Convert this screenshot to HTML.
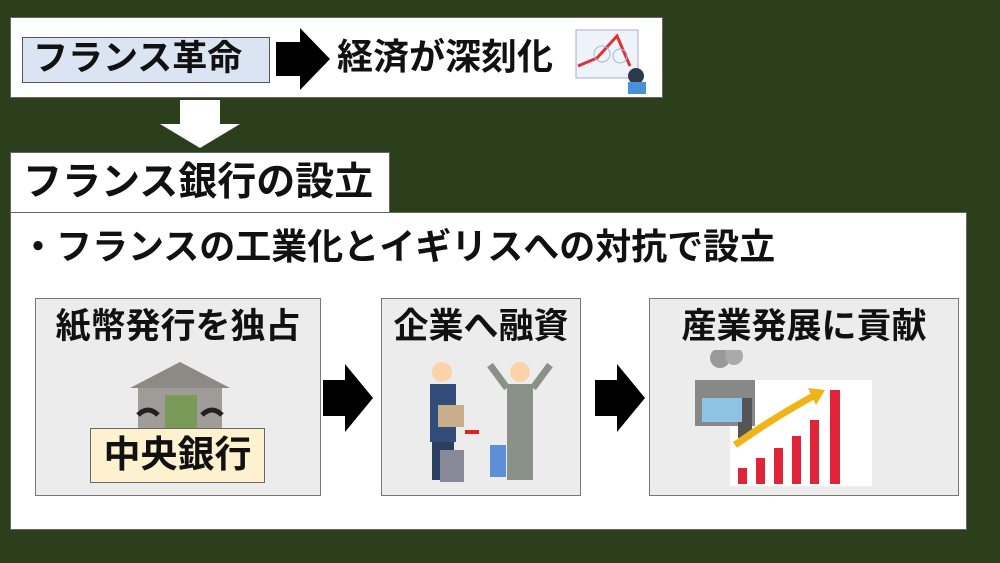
<!DOCTYPE html>
<html><head><meta charset="utf-8"><style>
body{margin:0;width:1000px;height:563px;background:#2b3f1c;position:relative;overflow:hidden;font-family:"Liberation Sans","Noto Sans CJK JP",sans-serif;font-weight:bold;color:#111}
.a{position:absolute;box-sizing:border-box;white-space:nowrap}
.w{background:#fff;border:1px solid #666}
.p{background:#ececec;border:1.5px solid #777;text-align:center;font-size:35px;line-height:56px}
</style></head><body>
<div class="a w" style="left:10px;top:17px;width:653px;height:81px"></div>
<div class="a" style="left:22px;top:37px;width:248px;height:46px;background:#dbe4f2;border:1.5px solid #555;font-size:35px;line-height:42px;padding-left:10px">フランス革命</div>
<svg class="a" style="left:276px;top:28px" width="56" height="62"><polygon points="0,14 24,14 24,0 54,31 24,62 24,48 0,48" fill="#000"/></svg>
<div class="a" style="left:337px;top:34px;font-size:36px;line-height:46px">経済が深刻化</div>
<svg class="a" style="left:572px;top:26px" width="80" height="68"><rect x="4" y="4" width="62" height="48" fill="#eef3fa" stroke="#aac"/><polyline points="6,40 25,32 45,10 58,40" fill="none" stroke="#d33" stroke-width="3"/><circle cx="30" cy="28" r="8" fill="none" stroke="#9bd"/><circle cx="48" cy="30" r="7" fill="none" stroke="#9bd"/><circle cx="64" cy="50" r="8" fill="#2d3a4a"/><rect x="56" y="56" width="18" height="12" fill="#4a8fd8"/></svg>
<svg class="a" style="left:160px;top:100px" width="82" height="50"><polygon points="20,0 60,0 60,24 80,24 40,48 0,24 20,24" fill="#fff"/></svg>
<div class="a w" style="left:10px;top:152px;width:380px;height:61px;font-size:39px;line-height:60px;padding-left:12px">フランス銀行の設立</div>
<div class="a w" style="left:10px;top:212px;width:957px;height:318px"></div>
<div class="a" style="left:20px;top:224px;font-size:36px;line-height:46px">・フランスの工業化とイギリスへの対抗で設立</div>
<div class="a p" style="left:35px;top:298px;width:286px;height:198px">紙幣発行を独占</div>
<div class="a p" style="left:381px;top:298px;width:200px;height:198px">企業へ融資</div>
<div class="a p" style="left:649px;top:298px;width:310px;height:198px">産業発展に貢献</div>
<svg class="a" style="left:323px;top:364px" width="52" height="68"><polygon points="0,16 22,16 22,0 50,34 22,68 22,52 0,52" fill="#000"/></svg>
<svg class="a" style="left:595px;top:364px" width="52" height="68"><polygon points="0,16 22,16 22,0 50,34 22,68 22,52 0,52" fill="#000"/></svg>
<svg class="a" style="left:120px;top:360px" width="120" height="72"><polygon points="60,2 110,28 10,28" fill="#8d8a86"/><rect x="18" y="28" width="84" height="44" fill="#a09d99"/><rect x="45" y="35" width="32" height="35" fill="#7a9a5a"/><path d="M18,55 q10,-10 20,0 M82,55 q10,-10 20,0" stroke="#222" stroke-width="5" fill="none"/></svg>
<div class="a" style="left:90px;top:428px;width:175px;height:55px;background:#fdf1cf;border:1.5px solid #666;font-size:37px;line-height:52px;text-align:center">中央銀行</div>
<svg class="a" style="left:410px;top:360px" width="150" height="125"><circle cx="32" cy="12" r="10" fill="#fbd3a9"/><rect x="20" y="24" width="26" height="58" fill="#334d7a"/><rect x="22" y="82" width="22" height="38" fill="#2c3e60"/><rect x="28" y="45" width="26" height="22" fill="#c9ae8a"/><rect x="30" y="90" width="24" height="32" fill="#889"/><circle cx="110" cy="12" r="10" fill="#fbd3a9"/><rect x="97" y="24" width="26" height="96" fill="#8a9188"/><path d="M97,28 L80,5 M123,28 L140,5" stroke="#8a9188" stroke-width="7"/><rect x="80" y="85" width="16" height="32" fill="#5b8fd6"/><path d="M55,72 h14" stroke="#d22" stroke-width="4"/></svg>
<svg class="a" style="left:690px;top:350px" width="190" height="138"><rect x="40" y="30" width="142" height="106" fill="#fff"/><circle cx="30" cy="8" r="10" fill="#999"/><circle cx="44" cy="6" r="9" fill="#aaa"/><rect x="5" y="30" width="60" height="46" fill="#888"/><rect x="48" y="48" width="14" height="40" fill="#555"/><rect x="12" y="48" width="40" height="24" fill="#8fc3e3"/><rect x="48" y="118" width="9" height="16" fill="#e0243a"/><rect x="66" y="108" width="9" height="26" fill="#e0243a"/><rect x="84" y="98" width="9" height="36" fill="#e0243a"/><rect x="102" y="86" width="9" height="48" fill="#e0243a"/><rect x="120" y="70" width="9" height="64" fill="#e0243a"/><rect x="140" y="40" width="10" height="94" fill="#e0243a"/><path d="M45,95 Q80,70 125,45" stroke="#f0b418" stroke-width="7" fill="none"/><polygon points="118,38 135,40 126,55" fill="#f0b418"/></svg>
</body></html>
